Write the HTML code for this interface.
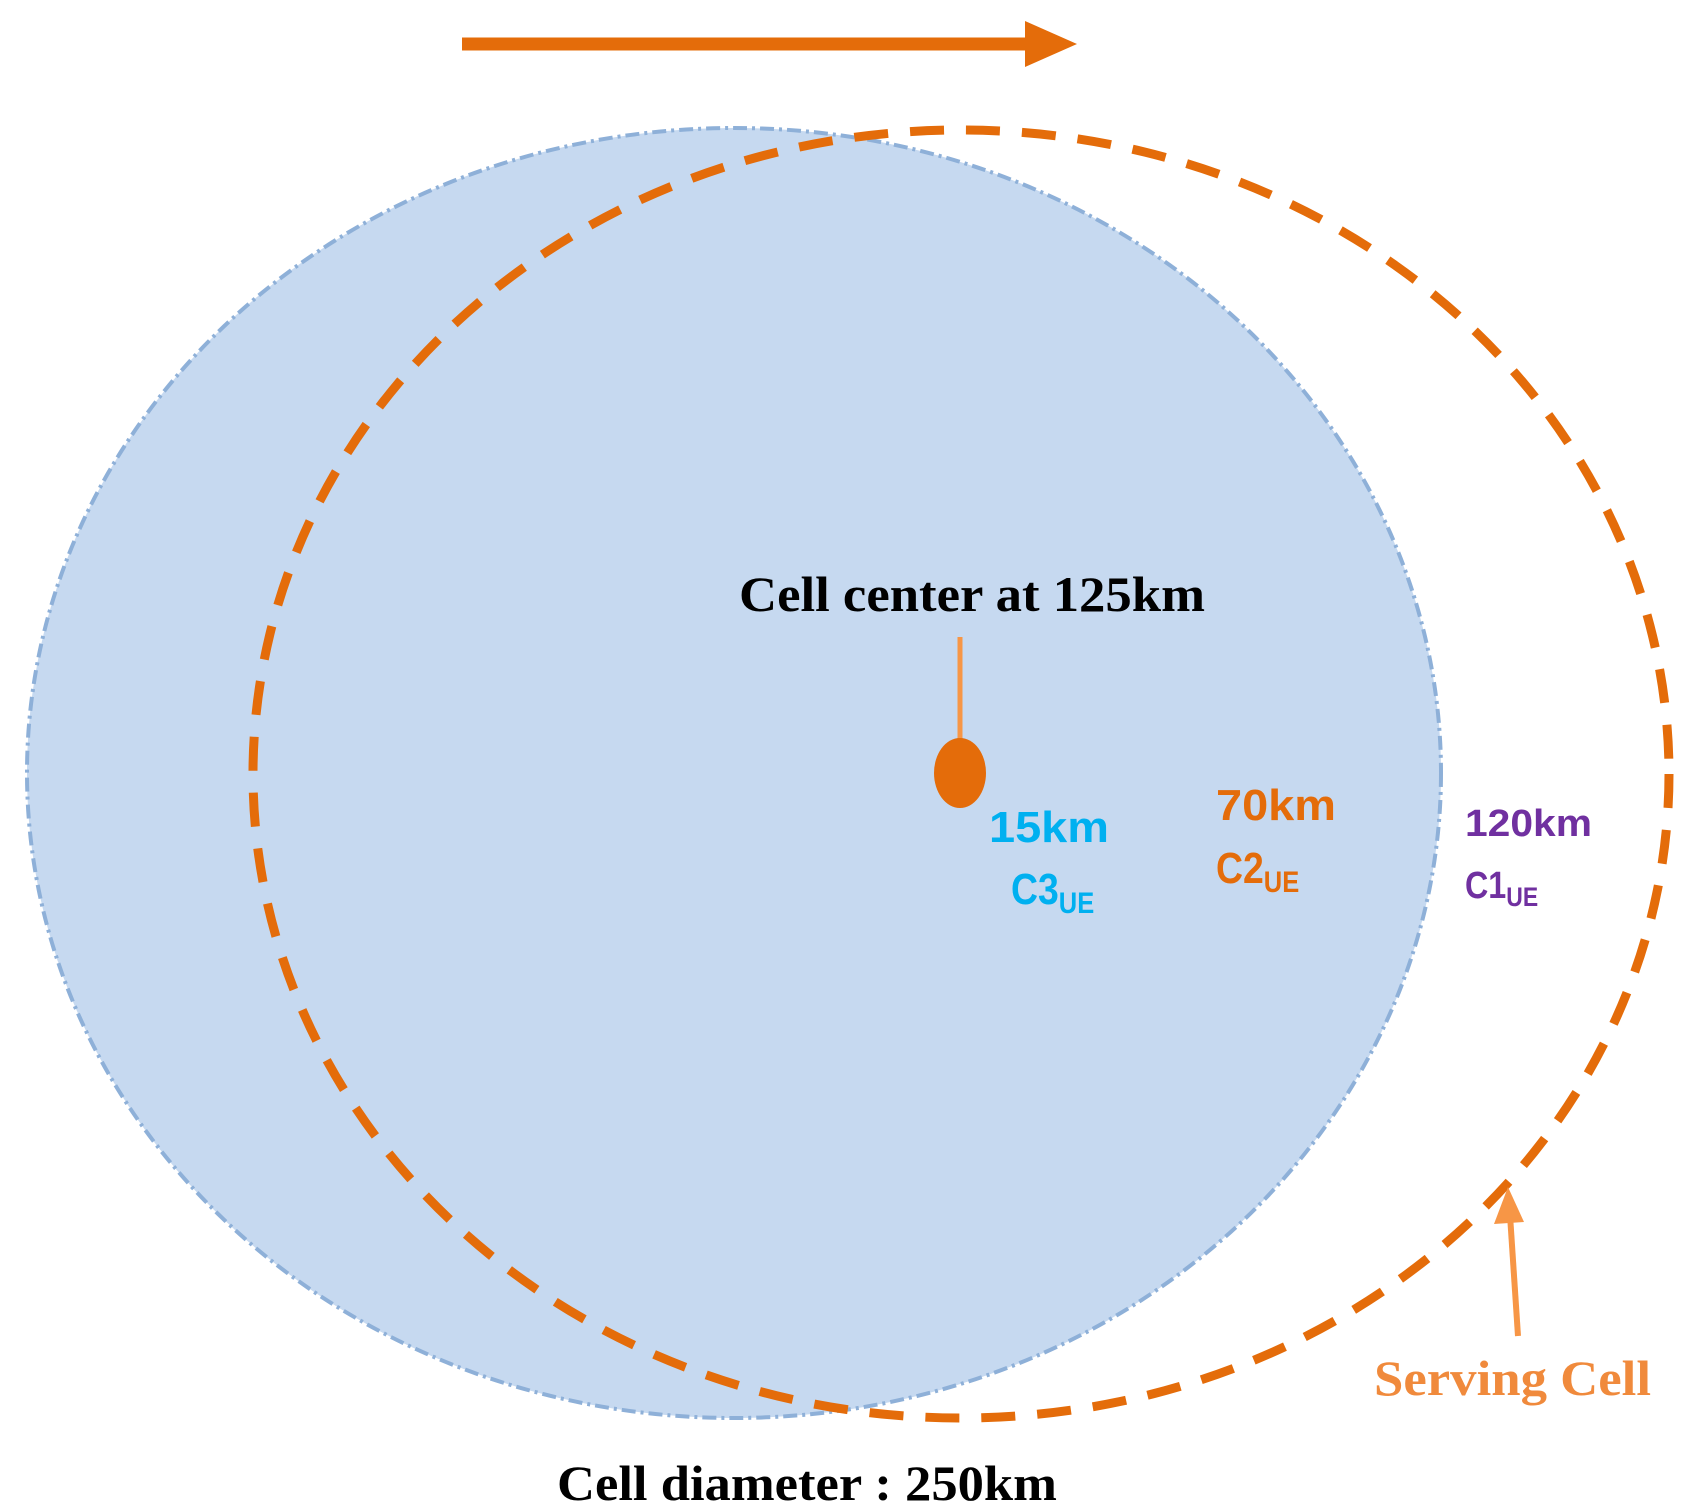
<!DOCTYPE html>
<html><head><meta charset="utf-8"><style>html,body{margin:0;padding:0;background:#fff}svg{display:block}</style></head>
<body>
<svg width="1683" height="1511" viewBox="0 0 1683 1511" xmlns="http://www.w3.org/2000/svg">
<ellipse cx="734" cy="773" rx="707" ry="645" fill="#c6d9f0" stroke="#8eb0d8" stroke-width="4" stroke-dasharray="14 5 3 5"/>
<ellipse cx="961" cy="774" rx="708" ry="644" fill="none" stroke="#e46c0a" stroke-width="9" stroke-dasharray="34 22"/>
<line x1="462" y1="44" x2="1030" y2="44" stroke="#e46c0a" stroke-width="13"/>
<polygon points="1025,21 1077,44 1025,67" fill="#e46c0a"/>
<text x="739" y="611" font-family="Liberation Serif, serif" font-weight="bold" font-size="50" textLength="466" lengthAdjust="spacingAndGlyphs" fill="#000">Cell center at 125km</text>
<line x1="960" y1="637" x2="960" y2="745" stroke="#f79646" stroke-width="5"/>
<ellipse cx="960" cy="773" rx="26" ry="35" fill="#e46c0a"/>
<g font-family="Liberation Sans, sans-serif" font-weight="bold">
<text x="989" y="842" font-size="44" fill="#00b0f0" textLength="120" lengthAdjust="spacingAndGlyphs">15km</text>
<text x="1011" y="904" font-size="44" fill="#00b0f0" transform="translate(1011 0) scale(0.85 1) translate(-1011 0)">C3<tspan font-size="30" dy="9">UE</tspan></text>
<text x="1216" y="820" font-size="44" fill="#e46c0a" textLength="120" lengthAdjust="spacingAndGlyphs">70km</text>
<text x="1216" y="883" font-size="44" fill="#e46c0a" transform="translate(1216 0) scale(0.85 1) translate(-1216 0)">C2<tspan font-size="30" dy="9">UE</tspan></text>
<text x="1465" y="836" font-size="38" fill="#7030a0" textLength="127" lengthAdjust="spacingAndGlyphs">120km</text>
<text x="1465" y="898" font-size="38" fill="#7030a0" transform="translate(1465 0) scale(0.85 1) translate(-1465 0)">C1<tspan font-size="27" dy="8">UE</tspan></text>
</g>
<line x1="1518" y1="1336" x2="1510" y2="1215" stroke="#f79646" stroke-width="6"/>
<polygon points="1508,1187 1524,1222 1494,1224" fill="#f79646"/>
<text x="1374" y="1395" font-family="Liberation Serif, serif" font-weight="bold" font-size="50" textLength="277" lengthAdjust="spacingAndGlyphs" fill="#f08a3c">Serving Cell</text>
<text x="557" y="1500" font-family="Liberation Serif, serif" font-weight="bold" font-size="50" textLength="500" lengthAdjust="spacingAndGlyphs" fill="#000">Cell diameter : 250km</text>
</svg>
</body></html>
